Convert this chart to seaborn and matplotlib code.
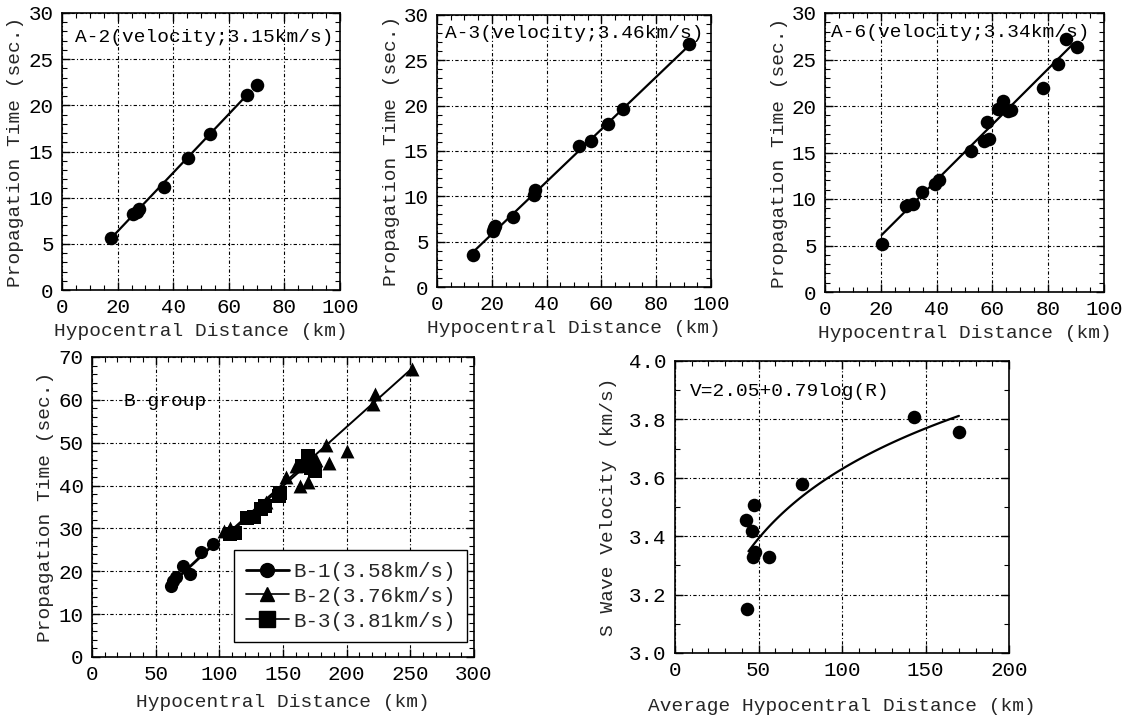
import numpy as np
import pandas as pd
import matplotlib
matplotlib.use("Agg")
import matplotlib.pyplot as plt
import seaborn as sns
from matplotlib.ticker import MultipleLocator, FormatStrFormatter
from matplotlib.lines import Line2D

# ---------------- data ----------------
a2_dist = [17.7, 25.7, 27.0, 27.6, 36.8, 45.5, 53.1, 66.5, 70.2]
a2_time = [5.6, 8.2, 8.5, 8.8, 11.2, 14.3, 16.9, 21.1, 22.2]
a2_vel, a2_icpt, a2_range = 3.15, 0.0, [18.0, 66.5]

a3_dist = [13.1, 20.4, 20.9, 21.3, 27.7, 35.3, 35.8, 51.8, 56.3, 62.5, 68.0, 92.1]
a3_time = [3.5, 6.2, 6.5, 6.7, 7.7, 10.1, 10.7, 15.5, 16.1, 18.0, 19.6, 26.8]
a3_vel, a3_icpt, a3_range = 3.46, 0.05, [13.0, 92.0]

a6_dist = [20.4, 28.9, 31.4, 34.9, 39.4, 41.0, 52.4, 57.1, 58.7, 58.1, 62.1, 63.8,
           66.5, 65.5, 78.3, 83.4, 86.4, 90.2]
a6_time = [5.15, 9.2, 9.5, 10.7, 11.6, 12.05, 15.2, 16.2, 16.4, 18.3, 19.7, 20.5,
           19.6, 19.5, 21.9, 24.5, 27.2, 26.3]
a6_vel, a6_icpt, a6_range = 3.34, 0.05, [20.3, 89.0]

b1_dist = [62.0, 64.0, 66.0, 71.4, 77.0, 85.5, 95.4]
b1_time = [16.6, 17.8, 18.7, 21.2, 19.3, 24.5, 26.4]
b1_vel, b1_icpt, b1_range = 3.58, -0.4, [62.0, 97.0]

b2_dist = [104, 108, 135, 137, 152, 160, 163, 170, 176, 184, 186, 200, 221, 222, 251]
b2_time = [29.5, 30.0, 35.5, 36.2, 42.0, 44.5, 40.0, 40.8, 46.0, 49.5, 45.3, 48.0,
           59.0, 61.3, 67.2]
b2_vel, b2_icpt, b2_range = 3.76, 0.5, [104.0, 251.0]

b3_dist = [108, 112, 122, 127, 133, 136, 147, 148, 165, 170, 172, 175]
b3_time = [28.8, 29.0, 32.4, 32.6, 34.5, 35.2, 37.5, 38.2, 44.5, 47.0, 44.0, 43.5]
b3_vel, b3_icpt, b3_range = 3.81, 0.5, [108.0, 176.0]

v_dist = [42.5, 47.5, 45.9, 46.5, 48.0, 56.4, 75.8, 143.2, 170.1, 43.3]
v_vel = [3.457, 3.508, 3.418, 3.33, 3.345, 3.33, 3.58, 3.808, 3.758, 3.15]
v_a, v_b, v_range = 2.05, 0.79, [44.0, 170.0]

# ---------------- style ----------------
sns.set_theme(style="white")
plt.rcParams['font.family'] = ['Liberation Mono', 'DejaVu Sans Mono']
FS = 14

fig = plt.figure(figsize=(11.27, 7.21), dpi=100)
W, H = 1127, 721


def add_ax(l, r, t, b):
    return fig.add_axes([l / W, 1 - b / H, (r - l) / W, (b - t) / H])


GRID_DASH = (0, (3, 2, 1, 2))


def style_ax(ax, xlim, ylim, xmaj, xmin, ymaj, ymin, yfmt=None):
    ax.set_xlim(*xlim)
    ax.set_ylim(*ylim)
    ax.xaxis.set_major_locator(MultipleLocator(xmaj))
    ax.xaxis.set_minor_locator(MultipleLocator(xmin))
    ax.yaxis.set_major_locator(MultipleLocator(ymaj))
    ax.yaxis.set_minor_locator(MultipleLocator(ymin))
    if yfmt:
        ax.yaxis.set_major_formatter(FormatStrFormatter(yfmt))
    ax.tick_params(which='both', direction='in', top=True, right=True,
                   bottom=True, left=True, colors='black', labelsize=FS + 1)
    ax.tick_params(which='major', length=6, width=1.0, pad=6)
    ax.tick_params(which='minor', length=3.5, width=0.8)
    ax.grid(True, which='major', color='black', linestyle=GRID_DASH, linewidth=0.8)
    ax.set_axisbelow(True)
    for s in ax.spines.values():
        s.set_color('black')
        s.set_linewidth(1.2)
        s.set_visible(True)


def fit_line(ax, rng, vel, icpt, lw=1.6):
    xs = np.array(rng)
    df = pd.DataFrame({'x': xs, 'y': xs / vel + icpt})
    sns.lineplot(data=df, x='x', y='y', ax=ax, color='black', linewidth=lw,
                 legend=False, zorder=3)


def points(ax, xs, ys, marker='o', s=90):
    df = pd.DataFrame({'x': xs, 'y': ys})
    sns.scatterplot(data=df, x='x', y='y', ax=ax, color='black', marker=marker,
                    s=s, edgecolor='black', linewidth=0, legend=False, zorder=4)


# ---- Top row ----
top_specs = [
    ((62, 340, 13, 290), a2_dist, a2_time, a2_vel, a2_icpt, a2_range,
     "A-2(velocity;3.15km/s)", (4.5, 27.3)),
    ((437, 711, 15, 287), a3_dist, a3_time, a3_vel, a3_icpt, a3_range,
     "A-3(velocity;3.46km/s)", (2.9, 28.0)),
    ((825, 1104, 13, 292), a6_dist, a6_time, a6_vel, a6_icpt, a6_range,
     "A-6(velocity;3.34km/s)", (2.0, 27.85)),
]
for box, xs, ys, vel, icpt, rng, label, tpos in top_specs:
    ax = add_ax(*box)
    style_ax(ax, (0, 100), (0, 30), 20, 5, 5, 1)
    fit_line(ax, rng, vel, icpt)
    points(ax, xs, ys, 'o', 95)
    ax.text(tpos[0], tpos[1], label, fontsize=FS, ha='left', va='center',
            color='black', clip_on=False, zorder=5)
    ax.set_xlabel("Hypocentral Distance (km)", fontsize=FS, labelpad=4)
    ax.set_ylabel("Propagation Time (sec.)", fontsize=FS, labelpad=3)

# ---- Bottom left (B group) ----
axb = add_ax(92, 474, 357, 657)
style_ax(axb, (0, 300), (0, 70), 50, 10, 10, 2)
fit_line(axb, b1_range, b1_vel, b1_icpt, lw=2.0)
fit_line(axb, b2_range, b2_vel, b2_icpt, lw=1.4)
fit_line(axb, b3_range, b3_vel, b3_icpt, lw=1.4)
points(axb, b1_dist, b1_time, 'o', 90)
points(axb, b2_dist, b2_time, '^', 100)
points(axb, b3_dist, b3_time, 's', 115)
axb.text(24.8, 59.5, "B group", fontsize=FS, ha='left', va='center', color='black')
axb.set_xlabel("Hypocentral Distance (km)", fontsize=FS, labelpad=7)
axb.set_ylabel("Propagation Time (sec.)", fontsize=FS, labelpad=3)
handles = [
    Line2D([0], [0], color='black', lw=2.0, marker='o', markersize=10),
    Line2D([0], [0], color='black', lw=1.2, marker='^', markersize=10),
    Line2D([0], [0], color='black', lw=1.2, marker='s', markersize=11),
]
labels = ["B-1(3.58km/s)", "B-2(3.76km/s)", "B-3(3.81km/s)"]
leg = axb.legend(handles, labels, loc='lower left', bbox_to_anchor=(0.372, 0.05),
                 prop={'size': 15}, frameon=True, fancybox=False, edgecolor='black',
                 framealpha=1, handlelength=2.1, handletextpad=0.2,
                 labelspacing=0.28, borderpad=0.55, borderaxespad=0)
leg.get_frame().set_linewidth(1.0)

# ---- Bottom right (velocity vs distance) ----
axv = add_ax(675, 1009, 361, 653)
style_ax(axv, (0, 200), (3.0, 4.0), 50, 10, 0.2, 0.1, yfmt='%.1f')
rr = np.linspace(v_range[0], v_range[1], 100)
dfc = pd.DataFrame({'x': rr, 'y': v_a + v_b * np.log10(rr)})
sns.lineplot(data=dfc, x='x', y='y', ax=axv, color='black', linewidth=1.6,
             legend=False, zorder=3)
points(axv, v_dist, v_vel, 'o', 95)
axv.text(9.0, 3.895, "V=2.05+0.79log(R)", fontsize=FS, ha='left', va='center',
         color='black')
axv.set_xlabel("Average Hypocentral Distance (km)", fontsize=FS, labelpad=13)
axv.set_ylabel("S Wave Velocity (km/s)", fontsize=FS, labelpad=9)

fig.savefig("out.png", dpi=100, facecolor='white')
